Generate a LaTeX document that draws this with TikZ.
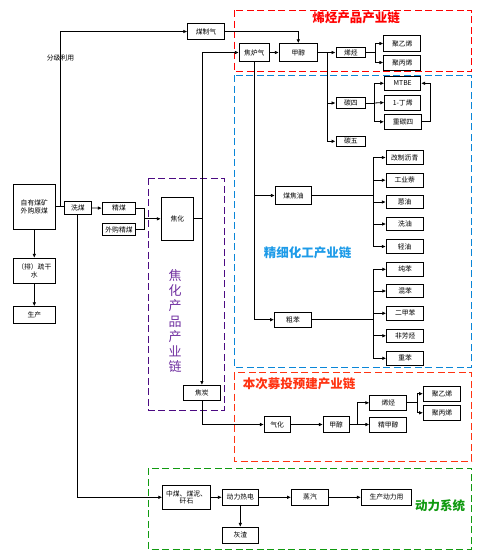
\documentclass[tikz,border=0pt]{standalone}
\usepackage{fontspec}
\setmainfont{Noto Sans CJK SC}
\usetikzlibrary{arrows.meta}
\definecolor{chainred}{HTML}{FF0000}
\definecolor{planred}{HTML}{FF3311}
\definecolor{fineblue}{HTML}{0A86D8}
\definecolor{finetext}{HTML}{1E9BE8}
\definecolor{cokeline}{HTML}{4B0A82}
\definecolor{coketext}{HTML}{7030A0}
\definecolor{powergreen}{HTML}{109A10}

\begin{document}
\begin{tikzpicture}[x=1pt,y=-1pt,line width=0.8pt,>={Latex[length=4pt,width=3.6pt]},
    box/.style={draw,fill=white,inner sep=0pt,minimum width=37,minimum height=14,
      align=center,font=\fontsize{6.8}{7.6}\selectfont},
    zone/.style={dash pattern=on 7pt off 3.5pt,line width=0.9pt},
    title/.style={font=\fontsize{12.5}{14}\selectfont\bfseries}]
  \useasboundingbox (0,0) rectangle (485,554);

  % dashed zones
  \draw[zone,chainred] (234,10) rectangle (471.5,71);
  \draw[zone,fineblue] (234.7,75.3) rectangle (471.3,367.7);
  \draw[zone,cokeline] (148.3,178.3) rectangle (224.3,410);
  \draw[zone,planred] (234.3,372.7) rectangle (471.7,461);
  \draw[zone,powergreen] (148.3,468.3) rectangle (471.7,549);

  \node[title,text=chainred] at (356,17.5) {烯烃产品产业链};
  \node[title,text=finetext] at (307.5,252.5) {精细化工产业链};
  \node[title,text=planred] at (299,383.5) {本次募投预建产业链};
  \node[title,text=powergreen] at (440,506) {动力系统};
  \node[text=coketext,align=center,font=\fontsize{13}{15.3}\selectfont] at (175,321)
    {焦\\化\\产\\品\\产\\业\\链};

  % raw coal side
  \node[box,minimum width=42,minimum height=45] (yuanmei) at (34.3,206.8) {自有煤矿\\外购原煤};
  \node[box,minimum width=42,minimum height=25] (shugan) at (34.3,270.8) {（排）疏干\\水};
  \node[box,minimum width=42,minimum height=16.6] (shengchan) at (34.3,315) {生产};
  \node[box,minimum width=27,minimum height=12.6] (ximei) at (77.8,208) {洗煤};
  \node[box,minimum width=33.4,minimum height=11.7] (jingmei) at (119,208.2) {精煤};
  \node[box,minimum width=33.4,minimum height=11.6] (waigou) at (119,229.5) {外购精煤};
  \node[box,minimum width=32,minimum height=43] (jiaohua) at (177.3,218.8) {焦化};
  \node[box,minimum height=15] (jiaotan) at (201.9,392.9) {焦炭};
  \node[box,minimum width=36.6,minimum height=15.6] (meizhiqi) at (206,31.5) {煤制气};
  \node[font=\fontsize{6.8}{7.6}\selectfont] at (60.5,57.7) {分级利用};

  % olefin chain
  \node[box,minimum width=30,minimum height=17.6] (jiaoluqi) at (254.3,52.5) {焦炉气};
  \node[box,minimum width=38,minimum height=17.6] (jiachun) at (298.3,52.5) {甲醇};
  \node[box,minimum width=29.7,minimum height=10.6] (xiting) at (350.8,52.5) {烯烃};
  \node[box,minimum height=16.4] (juyixi) at (402.3,43.5) {聚乙烯};
  \node[box,minimum height=15] (jubingxi) at (402.3,62.5) {聚丙烯};
  \node[box,minimum width=29.7,minimum height=10.6] (tansi) at (350.8,103) {碳四};
  \node[box,minimum width=29.7,minimum height=10.7] (tanwu) at (350.8,141.3) {碳五};
  \node[box,minimum width=36,minimum height=14.7] (mtbe) at (402.7,83.3) {MTBE};
  \node[box,minimum width=36,minimum height=15] (dingxi) at (402.7,102.5) {1-丁烯};
  \node[box,minimum height=15] (zhongtansi) at (403,121.8) {重碳四};

  % fine chemicals
  \node[box,minimum width=36.4,minimum height=17.6] (meijiaoyou) at (293.5,195.5) {煤焦油};
  \node[box,minimum height=13.6] (liqing) at (404.7,157.5) {改制沥青};
  \node[box,minimum height=13.7] (gongyenai) at (404.7,180.2) {工业萘};
  \node[box,minimum height=12.6] (enyou) at (404.7,202) {蒽油};
  \node[box,minimum height=12.6] (xiyou) at (405,224) {洗油};
  \node[box,minimum height=13.6] (qingyou) at (404.7,246.5) {轻油};
  \node[box,minimum height=15.3] (cuben) at (293,319.7) {粗苯};
  \node[box] (chunben) at (405.2,269.3) {纯苯};
  \node[box,minimum height=13.4] (hunben) at (405.2,291) {混苯};
  \node[box,minimum height=13.3] (erjiaben) at (405.2,313.3) {二甲苯};
  \node[box,minimum height=13.7] (feifangting) at (405.2,335.8) {非芳烃};
  \node[box] (zhongben) at (405.2,358.3) {重苯};

  % planned chain
  \node[box,minimum width=25.7,minimum height=15.6] (qihua) at (277.2,424.5) {气化};
  \node[box,minimum width=25.7,minimum height=15.6] (jiachunb) at (336.2,424.5) {甲醇};
  \node[box,minimum height=14.3] (xitingb) at (388.3,402.8) {烯烃};
  \node[box,minimum height=15] (jingjiachun) at (388.3,424.5) {精甲醇};
  \node[box,minimum height=15.3] (juyixib) at (442,393.7) {聚乙烯};
  \node[box,minimum height=15.7] (jubingxib) at (442,412.8) {聚丙烯};

  % power system
  \node[box,minimum width=47.6,minimum height=24] (zhongmei) at (186.5,497.3) {中煤、煤泥、\\矸石};
  \node[box,minimum width=36,minimum height=16] (reli) at (240.3,497.3) {动力热电};
  \node[box,minimum height=16] (zhengqi) at (310,497.3) {蒸汽};
  \node[box,minimum width=50.4,minimum height=16] (dongliyong) at (386.5,497.3) {生产动力用};
  \node[box,minimum width=36,minimum height=16] (huizha) at (240.3,535.3) {灰渣};

  % branch points
  \coordinate (fj) at (60.3,206.5);
  \coordinate (hb) at (144.7,218.8);
  \coordinate (jl) at (201.9,52.5);
  \coordinate (jc) at (327.3,52.5);
  \coordinate (xt) at (375.3,52.5);
  \coordinate (ts) at (374,103);
  \coordinate (mj) at (373.3,195.5);
  \coordinate (cb) at (373.3,319.7);
  \coordinate (jcb) at (357.3,424.5);
  \coordinate (xtb) at (417.3,402.8);

  % connectors
  \draw (yuanmei.east |- fj) -- (ximei.west |- fj);
  \draw[->] (fj) |- (meizhiqi.west);
  \draw[->] (yuanmei) -- (shugan);
  \draw[->] (shugan) -- (shengchan);
  \draw[->] (ximei) -- (jingmei);
  \draw (jingmei.east) -| (hb) |- (waigou.east);
  \draw[->] (hb) -- (jiaohua.west);
  \draw (jiaohua.east) -- (jiaohua.east -| jl);
  \draw[->] (jl) -- (jiaoluqi.west);
  \draw[->] (jl) -- (jiaotan.north);
  \draw[->] (meizhiqi.east) -| (jiachun.north);
  \draw[->] (jiaoluqi) -- (jiachun);
  \draw (jiachun.east) -- (jc);
  \draw[->] (jc) -- (xiting.west);
  \draw[->] (jc) |- (tansi.west);
  \draw[->] (jc) |- (tanwu.west);
  \draw (xiting.east) -- (xt);
  \draw[->] (xt) |- (juyixi.west);
  \draw[->] (xt) |- (jubingxi.west);
  \draw (tansi.east) -- (ts);
  \draw[->] (ts) |- (mtbe.west);
  \draw[->] (ts) -- (dingxi.west);
  \draw[->] (ts) |- (zhongtansi.west);
  \draw[->] (zhongtansi.east) -- ++(8.5,0) |- (mtbe.east);

  \draw[->] (jiaoluqi.south) |- (meijiaoyou.west);
  \draw[->] (jiaoluqi.south) |- (cuben.west);
  \draw (meijiaoyou.east) -- (mj);
  \foreach \n in {liqing,gongyenai,enyou,xiyou,qingyou}
    \draw[->] (mj) |- (\n.west);
  \draw (cuben.east) -- (cb);
  \foreach \n in {chunben,hunben,erjiaben,feifangting,zhongben}
    \draw[->] (cb) |- (\n.west);

  \draw[->] (jiaotan.south) |- (qihua.west);
  \draw[->] (qihua) -- (jiachunb);
  \draw (jiachunb.east) -- (jcb);
  \draw[->] (jcb) |- (xitingb.west);
  \draw[->] (jcb) -- (jingjiachun.west);
  \draw (xitingb.east) -- (xtb);
  \draw[->] (xtb) |- (juyixib.west);
  \draw[->] (xtb) |- (jubingxib.west);

  \draw[->] (ximei.south) |- (zhongmei.west);
  \draw[->] (zhongmei) -- (reli);
  \draw[->] (reli) -- (zhengqi);
  \draw[->] (zhengqi) -- (dongliyong);
  \draw[->] (reli) -- (huizha);
\end{tikzpicture}
\end{document}
